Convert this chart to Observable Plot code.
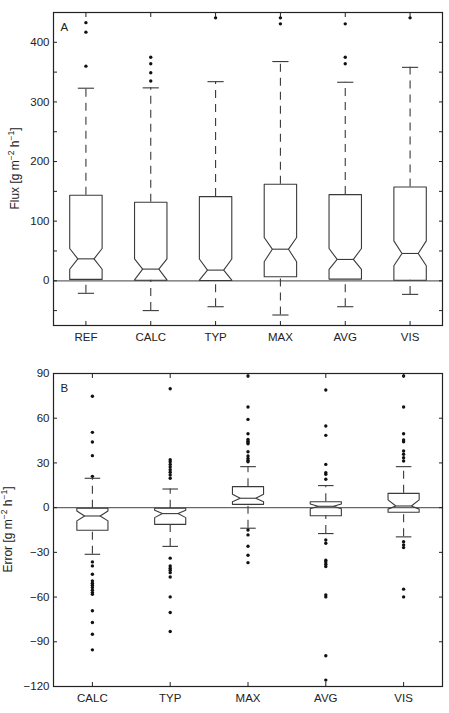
<!DOCTYPE html>
<html><head><meta charset="utf-8">
<script src="https://cdn.jsdelivr.net/npm/d3@7"></script>
<script src="https://cdn.jsdelivr.net/npm/@observablehq/plot@0.6"></script>
<style>
html,body{margin:0;padding:0;background:#fff;}
#chart{width:449px;}
#chart svg{display:block;}
</style></head><body><div id="chart"></div>
<script>
// ---------- Panel A: Flux ----------
const catsA   = ["REF","CALC","TYP","MAX","AVG","VIS"];
const q1A     = [2.3, 0.8, 0.5, 6.7, 2.8, 1.0];
const medA    = [36.8, 19.6, 17.9, 53.0, 35.8, 45.8];
const q3A     = [143.4, 131.7, 141.2, 161.8, 144.6, 157.3];
const notchLoA= [19.4, 1.5, 1.0, 31.8, 19.0, 25.1];
const notchHiA= [54.2, 36.8, 36.5, 72.6, 54.2, 67.0];
const whiskLoA= [-21, -50, -43.5, -57.4, -43.5, -22.8];
const whiskHiA= [323, 323.6, 334, 367.7, 333, 358];
const outliersA = [
  [360, 417, 433],
  [335, 349, 364, 375],
  [441],
  [431, 441],
  [364, 375, 431],
  [441]
];
const yTicksA = [0, 100, 200, 300, 400];
const yMinorA = [-50, 0, 50, 100, 150, 200, 250, 300, 350, 400];

// ---------- Panel B: Error ----------
const catsB   = ["CALC","TYP","MAX","AVG","VIS"];
const q1B     = [-15.2, -11.2, 2.2, -5.4, -3.1];
const medB    = [-5.6, -4.0, 6.3, 0.9, 1.1];
const q3B     = [-0.4, -0.4, 14.1, 4.0, 9.6];
const notchLoB= [-8.9, -6.7, 4.0, -0.7, -1.0];
const notchHiB= [-2.2, -1.8, 9.0, 2.5, 5.2];
const whiskLoB= [-31.3, -26.0, -13.8, -17.4, -19.6];
const whiskHiB= [19.7, 12.5, 27.5, 14.8, 27.5];
const outliersB = [
  [74.7, 50.5, 44, 34.9, 21, -36.4, -39.1, -44.7, -49.1, -50.7, -52.1, -53.6, -55.4, -57, -58.1, -69.2, -77.1, -84.9, -95.4],
  [79.8, 32.2, 30.8, 29, 27.3, 25.5, 23.7, 21.9, 19.7, -33.9, -39.1, -40.6, -42, -43.6, -46.5, -59.9, -70.4, -83.1],
  [88.3, 67.5, 59.2, 49.6, 45.8, 44.6, 43.5, 42.9, 37.5, 34.6, 33, 31.7, 30.8, -15, -18.3, -25.9, -31.9, -36.9],
  [78.9, 54.8, 48.5, 29, 23.5, 22.4, 19, -21.7, -23.9, -35.3, -36.5, -37.9, -39.5, -58.5, -59.9, -99.4, -115.7],
  [88.3, 67.5, 49.6, 45.4, 44.2, 38, 35.8, 33.5, 31.3, -22.8, -25, -26.8, -54.7, -59.9]
];
const yTicksB = [-120, -90, -60, -30, 0, 30, 60, 90];

const FONT = "'Liberation Sans', Arial, Helvetica, sans-serif";
const INK = "#222";
const LINE = "#3a3a3a";
const fmt = d => d < 0 ? "\u2212" + Math.abs(d) : String(d);

function panel(o) {
  const n = o.cats.length;
  const idx = d3.range(1, n + 1);
  const hw = o.halfW, nw = o.halfW * 0.5, cw = o.halfW * 0.5;
  const poly = [];
  idx.forEach((x, i) => {
    const pts = [
      [x - hw, o.q1[i]], [x - hw, o.nlo[i]], [x - nw, o.med[i]], [x - hw, o.nhi[i]], [x - hw, o.q3[i]],
      [x + hw, o.q3[i]], [x + hw, o.nhi[i]], [x + nw, o.med[i]], [x + hw, o.nlo[i]], [x + hw, o.q1[i]],
      [x - hw, o.q1[i]]
    ];
    pts.forEach(([px, py]) => poly.push({cat: o.cats[i], x: px, y: py}));
  });
  const stats = idx.map((x, i) => ({x, q1: o.q1[i], q3: o.q3[i], med: o.med[i], lo: o.wlo[i], hi: o.whi[i]}));
  const outs = [];
  o.outliers.forEach((arr, i) => arr.forEach(v => outs.push({x: i + 1, y: v})));

  const svg = Plot.plot({
    width: 449,
    height: o.height,
    marginTop: o.marginTop,
    marginBottom: o.marginBottom,
    marginLeft: 53,
    marginRight: 7,
    style: {fontFamily: FONT, fontSize: "11.5px", color: INK, background: "#fff"},
    x: {domain: [0.5, n + 0.5]},
    y: {domain: o.yDomain},
    marks: [
      Plot.ruleY([0], {stroke: "#666", strokeWidth: 1.2}),
      Plot.ruleX(stats, {x: "x", y1: "q3", y2: "hi", stroke: LINE, strokeWidth: 1.1, strokeDasharray: "8,6"}),
      Plot.ruleX(stats, {x: "x", y1: "lo", y2: "q1", stroke: LINE, strokeWidth: 1.1, strokeDasharray: "8,6"}),
      Plot.link(stats, {x1: d => d.x - cw, x2: d => d.x + cw, y1: "hi", y2: "hi", stroke: LINE, strokeWidth: 1.1}),
      Plot.link(stats, {x1: d => d.x - cw, x2: d => d.x + cw, y1: "lo", y2: "lo", stroke: LINE, strokeWidth: 1.1}),
      Plot.line(poly, {x: "x", y: "y", z: "cat", stroke: LINE, strokeWidth: 1.1, curve: "linear"}),
      Plot.link(stats, {x1: d => d.x - nw, x2: d => d.x + nw, y1: "med", y2: "med", stroke: LINE, strokeWidth: 1.1}),
      Plot.dot(outs, {x: "x", y: "y", r: 1.7, fill: "#111", stroke: null}),
      // axes
      Plot.axisY(o.yTicks, {anchor: "left", tickSize: 0, tickPadding: 4, tickFormat: fmt, label: null}),
      Plot.axisY(o.yMinor, {anchor: "left", tickSize: 4, dx: 4, fill: "none", label: null, stroke: INK}),
      Plot.axisY(o.yMinor, {anchor: "right", tickSize: 4, dx: -4, fill: "none", label: null, stroke: INK}),
      Plot.axisX(idx, {anchor: "bottom", tickSize: 0, tickPadding: 7, tickFormat: i => o.cats[i - 1], label: null}),
      Plot.axisX(idx, {anchor: "bottom", tickSize: 4, dy: -4, fill: "none", label: null, stroke: INK}),
      Plot.axisX(idx, {anchor: "top", tickSize: 4, dy: 4, fill: "none", label: null, stroke: INK}),
      Plot.frame({stroke: INK, strokeWidth: 1.2}),
      Plot.text([o.letter], {frameAnchor: "top-left", dx: 7, dy: o.letterDy, textAnchor: "start", lineAnchor: "middle", fill: INK, fontSize: 11.5})
    ]
  });

  // rotated y-axis title with superscripts
  const t = d3.select(svg).append("text")
    .attr("transform", `translate(${o.labelX},${o.marginTop + (o.height - o.marginTop - o.marginBottom) / 2}) rotate(-90)`)
    .attr("text-anchor", "middle")
    .attr("dominant-baseline", "middle")
    .attr("fill", INK)
    .attr("font-family", FONT)
    .attr("font-size", "12px");
  t.append("tspan").text(o.ylab + " [g m");
  t.append("tspan").attr("dy", -4.5).attr("font-size", "8.5px").text("\u22122");
  t.append("tspan").attr("dy", 4.5).text(" h");
  t.append("tspan").attr("dy", -4.5).attr("font-size", "8.5px").text("\u22121");
  t.append("tspan").attr("dy", 4.5).text("]");
  return svg;
}

const root = document.getElementById("chart");
root.appendChild(panel({
  cats: catsA, q1: q1A, med: medA, q3: q3A, nlo: notchLoA, nhi: notchHiA, wlo: whiskLoA, whi: whiskHiA,
  outliers: outliersA, yDomain: [-75, 450], yTicks: yTicksA, yMinor: yMinorA,
  height: 350, marginTop: 12, marginBottom: 25, halfW: 0.25, letter: "A", letterDy: 15,
  ylab: "Flux", labelX: 16
}));
root.appendChild(panel({
  cats: catsB, q1: q1B, med: medB, q3: q3B, nlo: notchLoB, nhi: notchHiB, wlo: whiskLoB, whi: whiskHiB,
  outliers: outliersB, yDomain: [-120, 90], yTicks: yTicksB, yMinor: yTicksB,
  height: 363, marginTop: 23, marginBottom: 27, halfW: 0.2, letter: "B", letterDy: 14.6,
  ylab: "Error", labelX: 9
}));
</script>
</body></html>
